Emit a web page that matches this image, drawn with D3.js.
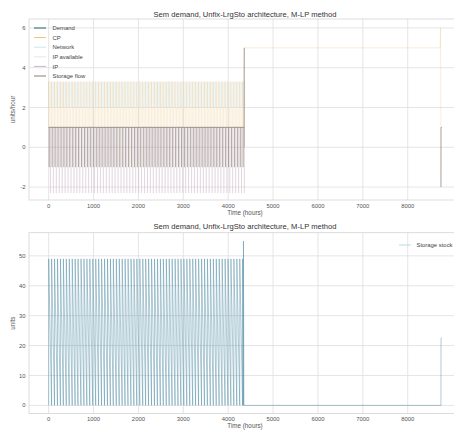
<!DOCTYPE html>
<html><head><meta charset="utf-8">
<script src="https://cdn.jsdelivr.net/npm/d3@7"></script>
<style>
body{margin:0;background:#fff;}
svg{display:block;font-family:"Liberation Sans",Arial,sans-serif;}
</style></head>
<body><svg id="c" width="454" height="430"></svg>
<script>
// ---------------- data ----------------
const title = "Sem demand, Unfix-LrgSto architecture, M-LP method";
const xTicks = [0,1000,2000,3000,4000,5000,6000,7000,8000];
const yTicksTop = [-2,0,2,4,6];
const yTicksBot = [0,10,20,30,40,50];
const seriesNames = ["Demand","CP","Network","IP available","IP","Storage flow"];
// hours of the repeating charge / discharge events in the first half year
const cycleHours = [0,65,130,196,262,327,392,458,524,589,654,720,786,851,916,982,1048,1113,1178,1244,1310,1375,1440,1506,1572,1637,1702,1768,1834,1899,1964,2030,2096,2161,2226,2292,2358,2423,2488,2554,2620,2685,2750,2816,2882,2947,3012,3078,3144,3209,3274,3340,3406,3471,3536,3602,3668,3733,3798,3864,3930,3995,4060,4126,4192,4257,4320];
// levels (units/hour)
const demandLevels = [1, 1];             // first half, last hours
const cpLevels = [1, 3.3, 2, 5, 6];      // low, peak, mid, second half, final peak
const networkLevels = [2, 3.3];
const ipAvailLevels = [2, 3.3];
const ipLevels = [1, -2.3];
const storageFlowLevels = [1, -1, 5, 0, -2];
// storage stock (units)
const stockLevels = [0, 49, 55, 22.5];
// hours of regime changes
const switchHours = [4350, 4358, 8722, 8730, 8740, 8760];

// ---------------- build series point tables ----------------
const [hA, hB, hC, hD, hE, hEnd] = switchHours;
const GAP = null;
function demandPts(){
  return [[0,demandLevels[0]],[hA,demandLevels[0]],[hA,GAP],[hE,demandLevels[1]],[hEnd,demandLevels[1]]];
}
function cpPts(){
  const p=[];
  cycleHours.forEach(h=>{p.push([h,cpLevels[0]],[h,cpLevels[1]],[h+3,cpLevels[2]],[h+30,cpLevels[2]],[h+33,cpLevels[0]]);});
  p.push([hA,cpLevels[2]],[hB,cpLevels[3]],[hC,cpLevels[3]],[hD,cpLevels[4]],[hE,demandLevels[1]],[hEnd,demandLevels[1]]);
  return p;
}
function spikePts(levels, off){
  const p=[];
  cycleHours.forEach(h=>{p.push([h+off,levels[0]],[h+off,levels[1]],[h+off+2,levels[0]]);});
  return p;
}
function storagePts(){
  const p=[[0,storageFlowLevels[0]]];
  cycleHours.forEach(h=>{p.push([h+12,storageFlowLevels[0]],[h+12,storageFlowLevels[1]],[h+14,storageFlowLevels[0]]);});
  p.push([hA,storageFlowLevels[0]],[hB,storageFlowLevels[2]],[hB+3,storageFlowLevels[3]],[hB+3,GAP],
         [hE,storageFlowLevels[0]],[hE,storageFlowLevels[4]],[hE+3,storageFlowLevels[0]]);
  return p;
}
function stockPts(){
  const p=[];
  cycleHours.forEach(h=>{p.push([h,stockLevels[0]],[h+1,stockLevels[1]]);});
  p.push([hA-12,stockLevels[0]],[hA-10,stockLevels[2]],[hA,stockLevels[0]],[hE,stockLevels[0]],[hE+2,stockLevels[3]],[hEnd,stockLevels[3]]);
  return p;
}

const topSeries = [
  {name:seriesNames[0], color:"#2e6070", pts:demandPts(), op:0.8},
  {name:seriesNames[1], color:"#ecc27c", pts:cpPts(), op:0.5},
  {name:seriesNames[2], color:"#cbe7ee", pts:spikePts(networkLevels,48), op:0.5},
  {name:seriesNames[3], color:"#efe6dc", pts:spikePts(ipAvailLevels,24), op:0.5},
  {name:seriesNames[4], color:"#c7b8c4", pts:spikePts(ipLevels,40), op:0.55},
  {name:seriesNames[5], color:"#8f7d72", pts:storagePts(), op:0.7}
];

// ---------------- drawing ----------------
const svg = d3.select("#c");
const x = d3.scaleLinear().domain([-438, 9198]).range([29, 461.5]);
const yT = d3.scaleLinear().domain([-2.65, 6.45]).range([200, 19]);
const yB = d3.scaleLinear().domain([-2.75, 57.75]).range([413.6, 232.7]);
const gridC = "#dedede", txtC = "#555";

function panel(y, yt, top, bottom, yLabel, titleY, xLabY){
  const g = svg.append("g");
  g.selectAll(".vg").data(xTicks).join("line")
    .attr("x1",d=>x(d)).attr("x2",d=>x(d)).attr("y1",top).attr("y2",bottom)
    .attr("stroke",gridC).attr("stroke-width",0.8);
  g.selectAll(".hg").data(yt).join("line")
    .attr("x1",29).attr("x2",461.5).attr("y1",d=>y(d)).attr("y2",d=>y(d))
    .attr("stroke",gridC).attr("stroke-width",0.8);
  g.append("rect").attr("x",29).attr("y",top).attr("width",432.5).attr("height",bottom-top)
    .attr("fill","none").attr("stroke","#d4d4d4").attr("stroke-width",0.8);
  g.selectAll(".xl").data(xTicks).join("text")
    .attr("x",d=>x(d)).attr("y",bottom+7.6).attr("text-anchor","middle")
    .attr("font-size",5.9).attr("fill",txtC).text(d=>d);
  g.selectAll(".yl").data(yt).join("text")
    .attr("x",25.5).attr("y",d=>y(d)+2.1).attr("text-anchor","end")
    .attr("font-size",5.9).attr("fill",txtC).text(d=>d);
  g.append("text").attr("x",245).attr("y",xLabY).attr("text-anchor","middle")
    .attr("font-size",6.3).attr("fill",txtC).text("Time (hours)");
  g.append("text").attr("transform",`translate(14.5,${(top+bottom)/2}) rotate(-90)`)
    .attr("text-anchor","middle").attr("font-size",6.3).attr("fill",txtC).text(yLabel);
  g.append("text").attr("x",245).attr("y",titleY).attr("text-anchor","middle")
    .attr("font-size",7.6).attr("fill","#333").text(title);
  return g;
}

const gT = panel(yT, yTicksTop, 19, 200, "units/hour", 16.5, 214.8);
const gB = panel(yB, yTicksBot, 232.7, 413.6, "units", 229, 428);

svg.append("clipPath").attr("id","cpT").append("rect").attr("x",29).attr("y",19).attr("width",432.5).attr("height",181);
svg.append("clipPath").attr("id","cpB").append("rect").attr("x",29).attr("y",232.7).attr("width",432.5).attr("height",180.9);

const lineT = d3.line().defined(d=>d[1]!==null).x(d=>x(d[0])).y(d=>yT(d[1]));
const lineB = d3.line().x(d=>x(d[0])).y(d=>yB(d[1]));

const dT = gT.append("g").attr("clip-path","url(#cpT)");
topSeries.forEach(s=>{
  dT.append("path").attr("d",lineT(s.pts)).attr("fill","none")
    .attr("stroke",s.color).attr("stroke-width",0.6).attr("stroke-opacity",s.op);
});

const dB = gB.append("g").attr("clip-path","url(#cpB)");
dB.append("path").attr("d",lineB(stockPts())).attr("fill","none")
  .attr("stroke","#2a7290").attr("stroke-width",0.55).attr("stroke-opacity",0.68);

// legends
const lg = svg.append("g");
topSeries.forEach((s,i)=>{
  const yy = 28 + i*9.6;
  lg.append("line").attr("x1",34).attr("x2",46).attr("y1",yy).attr("y2",yy)
    .attr("stroke",s.color).attr("stroke-width",1);
  lg.append("text").attr("x",52.5).attr("y",yy+2.1).attr("font-size",5.9).attr("fill","#444").text(s.name);
});
lg.append("line").attr("x1",399).attr("x2",411).attr("y1",245).attr("y2",245)
  .attr("stroke","#b9dbe5").attr("stroke-width",1);
lg.append("text").attr("x",416.5).attr("y",247.1).attr("font-size",5.9).attr("fill","#444").text("Storage stock");
</script></body></html>
